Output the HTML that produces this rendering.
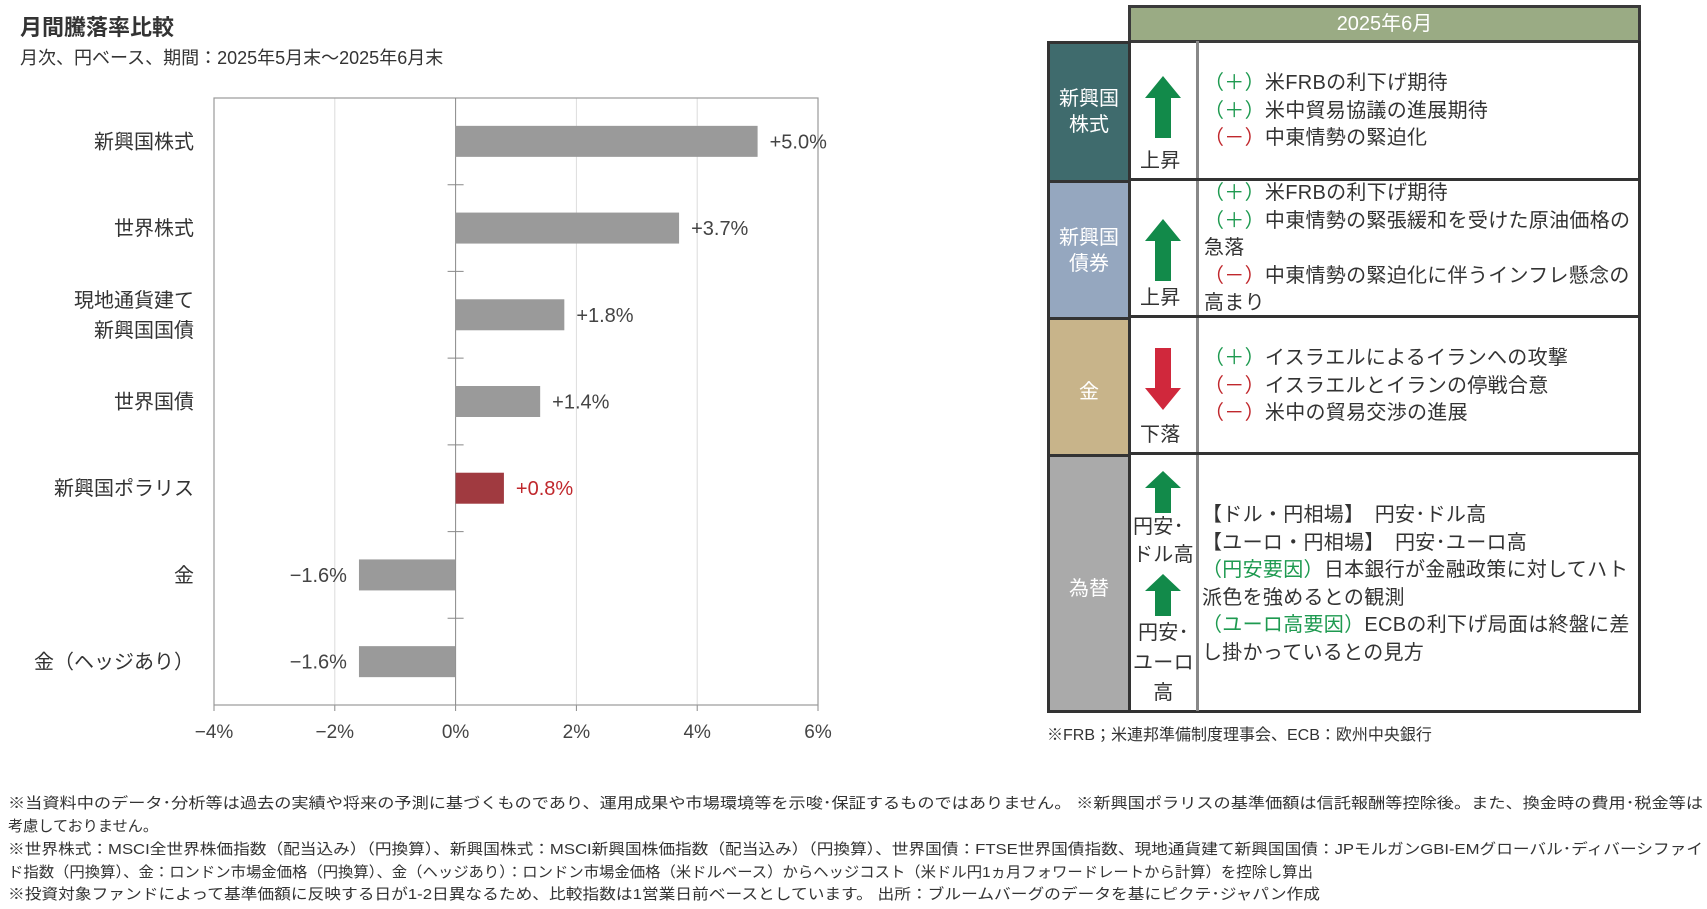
<!DOCTYPE html>
<html><head><meta charset="utf-8">
<style>
body{margin:0;width:1707px;height:909px;background:#fff;position:relative;overflow:hidden;font-family:"Liberation Sans","Noto Sans CJK JP",sans-serif;color:#333}
.abs{position:absolute;white-space:nowrap}
.fit{transform-origin:0 0;display:inline-block}
#tbl{position:absolute;left:0;top:0}
.cell{position:absolute;box-sizing:border-box}
.txt{font-size:20px;line-height:27.5px;color:#333;letter-spacing:0.3px}
.g{color:#1e9a50}.r{color:#c0282d}
</style></head><body>
<div class="abs" style="left:20px;top:10px;font-size:22px;font-weight:bold;color:#333">月間騰落率比較</div>
<div class="abs" style="left:20px;top:44px;font-size:18px;color:#333">月次、円ベース、期間：2025年5月末～2025年6月末</div>

<svg id="chart" width="860" height="760" style="position:absolute;left:0;top:0"></svg>

<div>
<div class="cell" style="left:1128px;top:5px;width:513px;height:38px;background:#9aab84;border:3px solid #3a3a3a;color:#fff;font-size:20px;text-align:center;line-height:32px">2025年6月</div>

<div class="cell" style="left:1047px;top:41px;width:84px;height:142px;background:#3f6b6d;border:3px solid #333;color:#fff;font-size:20px;text-align:center;padding-top:42px;line-height:26px">新興国<br>株式</div>
<div class="cell" style="left:1047px;top:180px;width:84px;height:140px;background:#95a7bf;border:3px solid #333;color:#fff;font-size:20px;text-align:center;padding-top:42px;line-height:26px">新興国<br>債券</div>
<div class="cell" style="left:1047px;top:317px;width:84px;height:140px;background:#c8b48a;border:3px solid #333;color:#fff;font-size:20px;text-align:center;padding-top:55px">金</div>
<div class="cell" style="left:1047px;top:454px;width:84px;height:259px;background:#aaaaaa;border:3px solid #333;color:#fff;font-size:20px;text-align:center;padding-top:115px">為替</div>

<div class="cell" style="left:1128px;top:41px;width:513px;height:672px;border:3px solid #333;border-top:none"></div>
<div class="cell" style="left:1196px;top:41px;width:3px;height:670px;background:#888"></div>
<div class="cell" style="left:1128px;top:178px;width:513px;height:3px;background:#333"></div>
<div class="cell" style="left:1128px;top:315px;width:513px;height:3px;background:#333"></div>
<div class="cell" style="left:1128px;top:452px;width:513px;height:3px;background:#333"></div>

<svg class="cell" style="left:1145px;top:76px" width="36" height="62"><polygon points="18,0 36,22 26,22 26,62 10,62 10,22 0,22" fill="#128a4a"/></svg>
<div class="abs txt" style="left:1140px;top:148px">上昇</div>
<svg class="cell" style="left:1145px;top:219px" width="36" height="62"><polygon points="18,0 36,22 26,22 26,62 10,62 10,22 0,22" fill="#128a4a"/></svg>
<div class="abs txt" style="left:1140px;top:285px">上昇</div>
<svg class="cell" style="left:1145px;top:348px" width="36" height="62"><polygon points="10,0 26,0 26,40 36,40 18,62 0,40 10,40" fill="#d0283c"/></svg>
<div class="abs txt" style="left:1140px;top:422px">下落</div>
<svg class="cell" style="left:1145px;top:471px" width="36" height="42"><polygon points="18,0 36,17 26,17 26,42 10,42 10,17 0,17" fill="#128a4a"/></svg>
<div class="abs txt" style="left:1133px;top:513px;line-height:28px">円安･<br>ドル高</div>
<svg class="cell" style="left:1145px;top:574px" width="36" height="42"><polygon points="18,0 36,17 26,17 26,42 10,42 10,17 0,17" fill="#128a4a"/></svg>
<div class="abs txt" style="left:1133px;top:618px;line-height:30px;text-align:center">円安･<br>ユーロ<br>高</div>

<div class="abs txt" style="left:1204px;top:70px"><span class="g">（＋）</span>米FRBの利下げ期待<br><span class="g">（＋）</span>米中貿易協議の進展期待<br><span class="r">（－）</span>中東情勢の緊迫化</div>
<div class="abs txt" style="left:1204px;top:180px"><span class="g">（＋）</span>米FRBの利下げ期待<br><span class="g">（＋）</span>中東情勢の緊張緩和を受けた原油価格の<br>急落<br><span class="r">（－）</span>中東情勢の緊迫化に伴うインフレ懸念の<br>高まり</div>
<div class="abs txt" style="left:1204px;top:345px"><span class="g">（＋）</span>イスラエルによるイランへの攻撃<br><span class="r">（－）</span>イスラエルとイランの停戦合意<br><span class="r">（－）</span>米中の貿易交渉の進展</div>
<div class="abs txt" style="left:1202px;top:502px">【ドル・円相場】　円安･ドル高<br>【ユーロ・円相場】　円安･ユーロ高<br><span class="g">（円安要因）</span>日本銀行が金融政策に対してハト<br>派色を強めるとの観測<br><span class="g">（ユーロ高要因）</span>ECBの利下げ局面は終盤に差<br>し掛かっているとの見方</div>
<div class="abs" style="left:1047px;top:721px;font-size:16px">※FRB；米連邦準備制度理事会、ECB：欧州中央銀行</div>
</div>

<div>
<div class="abs" style="left:8px;top:792px;font-size:15px"><span class="fit" data-w="1695">※当資料中のデータ･分析等は過去の実績や将来の予測に基づくものであり、運用成果や市場環境等を示唆･保証するものではありません。 ※新興国ポラリスの基準価額は信託報酬等控除後。また、換金時の費用･税金等は</span></div>
<div class="abs" style="left:8px;top:815px;font-size:15px"><span class="fit" data-w="150">考慮しておりません。</span></div>
<div class="abs" style="left:8px;top:838px;font-size:15px"><span class="fit" data-w="1695">※世界株式：MSCI全世界株価指数（配当込み）（円換算）、新興国株式：MSCI新興国株価指数（配当込み）（円換算）、世界国債：FTSE世界国債指数、現地通貨建て新興国国債：JPモルガンGBI-EMグローバル･ディバーシファイ</span></div>
<div class="abs" style="left:8px;top:861px;font-size:15px"><span class="fit" data-w="1305">ド指数（円換算）、金：ロンドン市場金価格（円換算）、金（ヘッジあり）：ロンドン市場金価格（米ドルベース）からヘッジコスト（米ドル円1ヵ月フォワードレートから計算）を控除し算出</span></div>
<div class="abs" style="left:8px;top:883px;font-size:15px"><span class="fit" data-w="1312">※投資対象ファンドによって基準価額に反映する日が1-2日異なるため、比較指数は1営業日前ベースとしています。 出所：ブルームバーグのデータを基にピクテ･ジャパン作成</span></div>
</div>

<script>
const categories=["新興国株式","世界株式","現地通貨建て\n新興国国債","世界国債","新興国ポラリス","金","金（ヘッジあり）"];
const values=[5.0,3.7,1.8,1.4,0.8,-1.6,-1.6];
const valueLabels=["+5.0%","+3.7%","+1.8%","+1.4%","+0.8%","−1.6%","−1.6%"];
const highlight=[false,false,false,false,true,false,false];
const xTicks=[-4,-2,0,2,4,6];
const xTickLabels=["−4%","−2%","0%","2%","4%","6%"];

const svg=document.getElementById('chart');
const NS='http://www.w3.org/2000/svg';
const L=214,R=818,T=98,B=705,xmin=-4,xmax=6;
const x=v=>L+(v-xmin)/(xmax-xmin)*(R-L);
const band=(B-T)/categories.length;
const yc=i=>T+band*(i+0.5);
function mk(tag,attrs,parent){const e=document.createElementNS(NS,tag);for(const k in attrs)e.setAttribute(k,attrs[k]);(parent||svg).appendChild(e);return e;}

xTicks.forEach((t,i)=>{
  if(t!==xmin&&t!==xmax&&t!==0){const g=mk('line',{x1:x(t),x2:x(t),y1:T,y2:B,stroke:'#dcdcdc','stroke-width':1});
  
  }
  const tl=mk('text',{x:x(t),y:B+33,'text-anchor':'middle','font-size':19,fill:'#444'});
  tl.textContent=xTickLabels[i];
  
  
  mk('line',{x1:x(t),x2:x(t),y1:B,y2:B+6,stroke:'#888'});
});
const frame=mk('rect',{x:L,y:T,width:R-L,height:B-T,fill:'none',stroke:'#999','stroke-width':1.2});


const zero=mk('line',{x1:x(0),x2:x(0),y1:T,y2:B,stroke:'#888','stroke-width':1});


for(let i=1;i<categories.length;i++){mk('line',{x1:x(0)-8,x2:x(0)+8,y1:T+band*i,y2:T+band*i,stroke:'#888'});}

categories.forEach((c,i)=>{
  const v=values[i];
  const bh=31;
  const b=mk('rect',{x:Math.min(x(0),x(v)),y:yc(i)-bh/2,width:Math.abs(x(v)-x(0)),height:bh,fill:highlight[i]?'#a03a40':'#9a9a9a'});
  
  
  const lbl=mk('text',{x:v>=0?x(v)+12:x(v)-12,y:yc(i)+7,'text-anchor':v>=0?'start':'end','font-size':20,fill:highlight[i]?'#c0282d':'#444'});
  lbl.textContent=valueLabels[i];
  
  
  const lines=c.split('\n');
  lines.forEach((ln,j)=>{
    const t=mk('text',{x:194,y:yc(i)+7+(j-(lines.length-1)/2)*30,'text-anchor':'end','font-size':20,fill:'#333'});
    t.textContent=ln;
    
    
  });
});

document.querySelectorAll('.fit').forEach(s=>{const w=s.getBoundingClientRect().width;const tw=+s.dataset.w;s.style.transform='scaleX('+(tw/w)+')';});
</script>
</body></html>
